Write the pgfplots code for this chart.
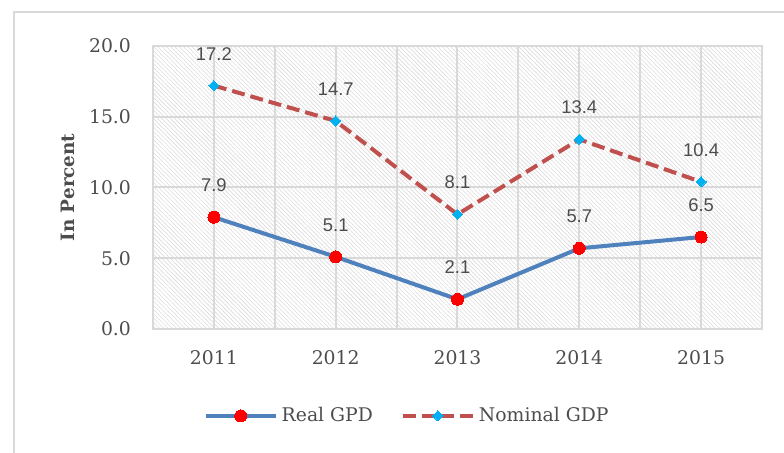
\documentclass[border=0pt]{standalone}
\usepackage{fontspec}
\setmainfont{DejaVu Serif}
\newfontfamily\arialf{Liberation Sans}
\usepackage{pgfplots}
\pgfplotsset{compat=1.18}
\usetikzlibrary{patterns.meta}
\definecolor{txt}{HTML}{4D4D4D}
\definecolor{gridc}{HTML}{D9D9D9}
\definecolor{blueline}{HTML}{4F81BD}
\definecolor{redline}{HTML}{C0504D}
\definecolor{cyanm}{HTML}{00B0F0}
\begin{document}
\begin{tikzpicture}
\useasboundingbox (0,0) rectangle (392pt,226.5pt);
\draw[gridc, line width=1pt] (7pt,0) -- (7pt,220.5pt) -- (392pt,220.5pt);
\begin{axis}[
  at={(76.5pt,62pt)}, anchor=south west,
  scale only axis, width=304.5pt, height=141.5pt,
  xmin=-0.5, xmax=4.5, ymin=0, ymax=20,
  xtick={0,1,2,3,4}, xticklabels={2011,2012,2013,2014,2015},
  minor xtick={-0.5,0.5,1.5,2.5,3.5,4.5},
  ytick={0,5,10,15,20},
  xmajorgrids, xminorgrids, ymajorgrids,
  grid style={gridc, line width=1pt},
  minor grid style={gridc, line width=1pt},
  axis line style={gridc, line width=1pt},
  major tick length=0pt, minor tick length=0pt,
  axis background/.style={pattern={Lines[angle=-45,distance=1.5pt,line width=0.3pt]}, pattern color=gray!28},
  /pgf/number format/assume math mode=true,
  /pgf/number format/.cd, fixed, fixed zerofill, precision=1, /pgfplots/.cd,
  tick label style={font=\fontsize{9.4}{10}\selectfont, text=txt},
  xticklabel style={yshift=-7pt},
  yticklabel style={xshift=-7.5pt},
  ylabel={\bfseries In Percent},
  every axis y label/.style={at={(axis description cs:0,0.5)}, xshift=-42.5pt, rotate=90, anchor=center, font=\fontsize{9.2}{10}\selectfont, text=txt},
  nodes near coords,
  every node near coord/.append style={font=\arialf\fontsize{9.2}{10}\selectfont, text=txt, anchor=center, yshift=16pt},
  legend columns=2,
  legend style={at={(0.419,-0.307)}, anchor=center, draw=none, fill=none, font=\fontsize{9.4}{10}\selectfont, text=txt, /tikz/every even column/.append style={column sep=12pt}},
  legend image code/.code={\draw[mark repeat=2, mark phase=2, #1] plot coordinates {(0pt,0pt) (17.5pt,0pt) (35pt,0pt)};},
]
\addplot[blueline, line width=2pt, mark=*, mark size=3pt, mark options={solid, fill=red, draw=red, line width=0pt}]
  coordinates {(0,7.9) (1,5.1) (2,2.1) (3,5.7) (4,6.5)};
\addlegendentry{Real GPD}
\addplot[redline, line width=2pt, dash pattern=on 6.5pt off 3pt, mark=square*, mark size=1.8pt, mark options={solid, rotate=45, fill=cyanm, draw=cyanm, line width=0pt}]
  coordinates {(0,17.2) (1,14.7) (2,8.1) (3,13.4) (4,10.4)};
\addlegendentry{Nominal GDP}
\end{axis}
\end{tikzpicture}
\end{document}
